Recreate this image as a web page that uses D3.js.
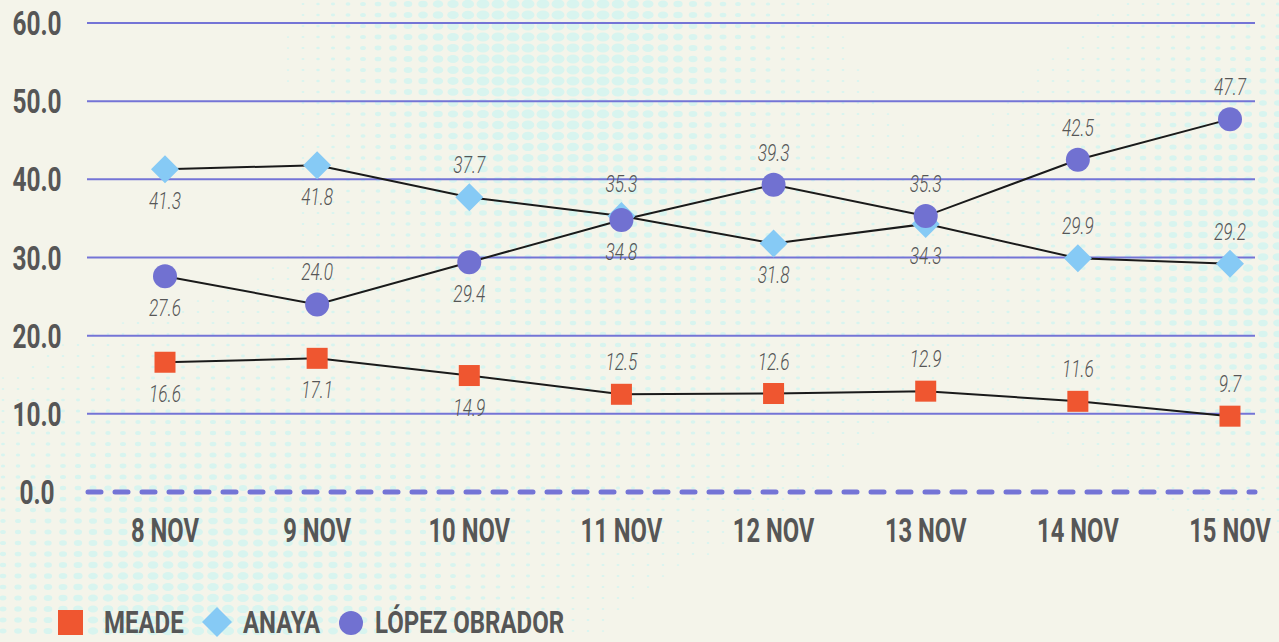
<html>
<head>
<script src="https://d3js.org/d3.v7.min.js"></script>
<style>
  body { margin: 0; background: #f4f4ea; }
  svg { font-family: Roboto, sans-serif; display: block; }
</style>
</head>
<body>
<svg id="chart"></svg>
<script>
// chart values
const days = ["8 NOV", "9 NOV", "10 NOV", "11 NOV", "12 NOV", "13 NOV", "14 NOV", "15 NOV"];
const meade = [16.6, 17.1, 14.9, 12.5, 12.6, 12.9, 11.6, 9.7];
const anaya = [41.3, 41.8, 37.7, 35.3, 31.8, 34.3, 29.9, 29.2];
const lopez = [27.6, 24.0, 29.4, 34.8, 39.3, 35.3, 42.5, 47.7];
const yTicks = [0, 10, 20, 30, 40, 50, 60];
// which side each value label sits on (1 = below, -1 = above)
const meadeSide = [1, 1, 1, -1, -1, -1, -1, -1];
const anayaSide = [1, 1, -1, -1, 1, 1, -1, -1];
const lopezSide = [1, -1, 1, 1, -1, -1, -1, -1];

const width = 1279, height = 642;
const grey = "#565656", gridColor = "#7474d6";

const svg = d3.select("#chart").attr("width", width).attr("height", height);
svg.append("rect").attr("width", width).attr("height", height).attr("fill", "#f4f4ea");

// halftone backdrop (decoration only)
const blobs = [
  {cx: 540, cy: 20, s: 130, a: 1.0},
  {cx: 1300, cy: 240, s: 170, a: 0.85},
  {cx: 200, cy: 660, s: 190, a: 0.95},
  {cx: 650, cy: 290, s: 190, a: 0.45}
];
const dots = [];
for (let y = 4; y < height; y += 11) {
  for (let x = 3; x < width; x += 15) {
    let v = 0;
    blobs.forEach(b => {
      const d2 = (x - b.cx) ** 2 + (y - b.cy) ** 2;
      v += b.a * Math.exp(-d2 / (2 * b.s * b.s));
    });
    const r = Math.min(1, v) * 6.5;
    if (r > 1.2) dots.push({x, y, r});
  }
}
svg.append("g").selectAll("ellipse").data(dots).join("ellipse")
  .attr("cx", d => d.x).attr("cy", d => d.y)
  .attr("rx", d => d.r).attr("ry", d => d.r * 0.7)
  .attr("fill", "#d8f4ef");

const x = d3.scalePoint().domain(days).range([165, 1230]);
const y = d3.scaleLinear().domain([0, 60]).range([492, 23]);

// grid
svg.append("g").selectAll("line").data(yTicks.filter(t => t > 0)).join("line")
  .attr("x1", 87).attr("x2", 1255)
  .attr("y1", d => y(d)).attr("y2", d => y(d))
  .attr("stroke", gridColor).attr("stroke-width", 2);
svg.append("line")
  .attr("x1", 88).attr("x2", 1255).attr("y1", y(0)).attr("y2", y(0))
  .attr("stroke", gridColor).attr("stroke-width", 5)
  .attr("stroke-linecap", "round").attr("stroke-dasharray", "13 14");

// y labels
svg.append("g").selectAll("text").data(yTicks).join("text")
  .attr("transform", d => `translate(37,${y(d) + 12}) scale(0.72,1)`)
  .attr("text-anchor", "middle").attr("font-size", 34).attr("font-weight", 700)
  .attr("fill", grey).text(d => d.toFixed(1));

// x labels
svg.append("g").selectAll("text").data(days).join("text")
  .attr("transform", d => `translate(${x(d)},${542}) scale(0.7,1)`)
  .attr("text-anchor", "middle").attr("font-size", 34).attr("font-weight", 700)
  .attr("fill", grey).text(d => d);

const line = d3.line().x((d, i) => x(days[i])).y(d => y(d));
[meade, anaya, lopez].forEach(s => {
  svg.append("path").datum(s).attr("d", line)
    .attr("fill", "none").attr("stroke", "#1a1a1a").attr("stroke-width", 2);
});

// markers
svg.append("g").selectAll("rect").data(meade).join("rect")
  .attr("x", (d, i) => x(days[i]) - 10.5).attr("y", d => y(d) - 10.5)
  .attr("width", 21).attr("height", 21).attr("fill", "#ef5630");
svg.append("g").selectAll("path").data(anaya).join("path")
  .attr("d", (d, i) => {
    const cx = x(days[i]), cy = y(d), h = 14;
    return `M${cx},${cy - h}L${cx + h},${cy}L${cx},${cy + h}L${cx - h},${cy}Z`;
  })
  .attr("fill", "#86caf5");
svg.append("g").selectAll("circle").data(lopez).join("circle")
  .attr("cx", (d, i) => x(days[i])).attr("cy", d => y(d)).attr("r", 12)
  .attr("fill", "#7171d1");

// value labels
function valueLabels(series, side) {
  svg.append("g").selectAll("text").data(series).join("text")
    .attr("transform", (d, i) => `translate(${x(days[i])},${y(d) + side[i] * 32 + 8}) scale(0.72,1)`)
    .attr("text-anchor", "middle").attr("font-size", 24).attr("font-weight", 300)
    .attr("font-style", "italic").attr("fill", grey).text(d => d.toFixed(1));
}
valueLabels(meade, meadeSide);
valueLabels(anaya, anayaSide);
valueLabels(lopez, lopezSide);

// legend
const lg = svg.append("g");
lg.append("rect").attr("x", 58).attr("y", 610).attr("width", 25).attr("height", 25).attr("fill", "#ef5630");
lg.append("path").attr("d", "M217,607L232,622L217,637L202,622Z").attr("fill", "#86caf5");
lg.append("circle").attr("cx", 351).attr("cy", 623).attr("r", 12).attr("fill", "#7171d1");
const legendItems = [
  {label: "MEADE", x: 104},
  {label: "ANAYA", x: 243},
  {label: "LÓPEZ OBRADOR", x: 375}
];
lg.selectAll("text").data(legendItems).join("text")
  .attr("transform", d => `translate(${d.x},633) scale(0.75,1)`)
  .attr("font-size", 32).attr("font-weight", 700).attr("fill", grey)
  .text(d => d.label);
</script>
</body>
</html>
